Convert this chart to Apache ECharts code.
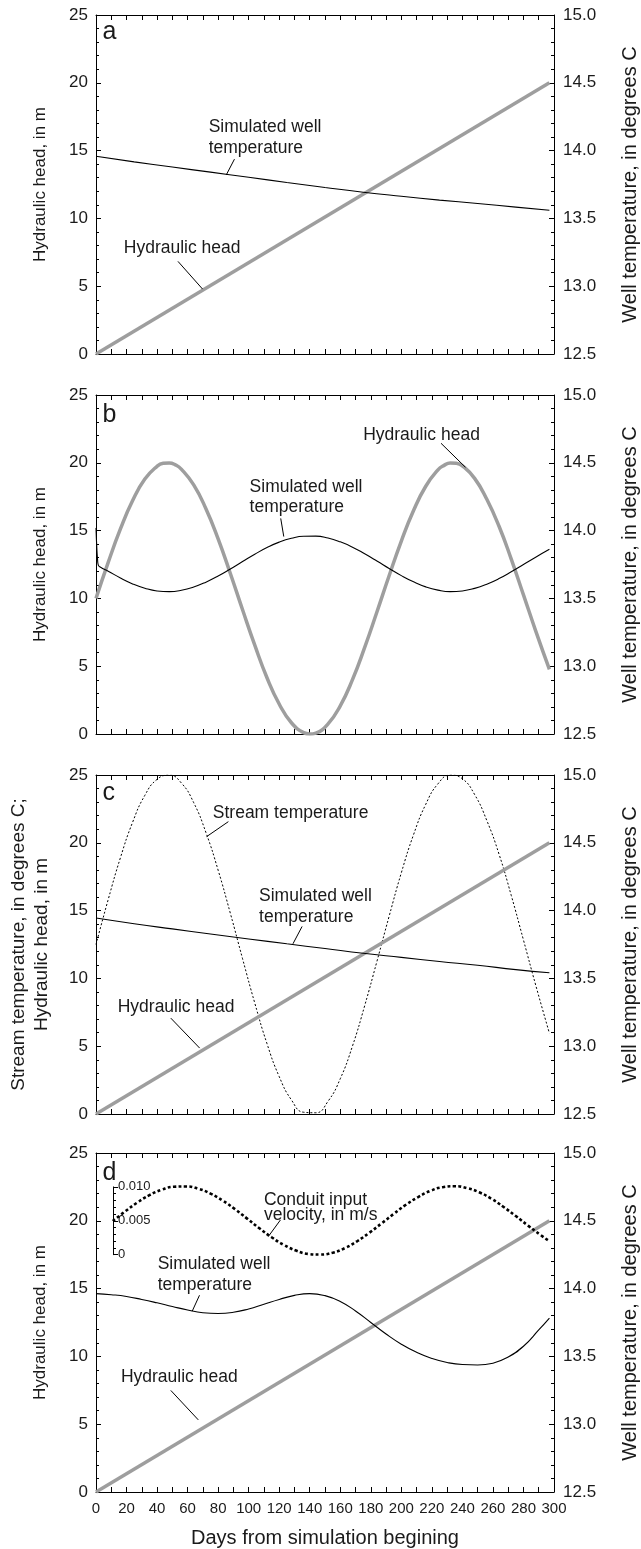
<!DOCTYPE html>
<html><head><meta charset="utf-8">
<script src="https://cdn.jsdelivr.net/npm/echarts@6/dist/echarts.min.js"></script>
<style>html,body{margin:0;padding:0;background:#fff}#c{width:641px;height:1549px}</style>
</head><body><div id="c"></div>
<script>
// ---------------- DATA ----------------
const panelLetters = ['a', 'b', 'c', 'd'];
const xTickLabels = [0,20,40,60,80,100,120,140,160,180,200,220,240,260,280,300];

// linear hydraulic head (panels a, c, d), metres
const headLinDays = [0, 297];
const headLin = [0, 20];

// panel a: simulated well temperature, deg C
const tempADays = [0,25,50,75,100,125,150,175,200,225,250,275,297];
const tempA = [13.958,13.917,13.879,13.841,13.803,13.765,13.728,13.693,13.663,13.635,13.61,13.583,13.56];

// panel b: sinusoidal hydraulic head, metres
const headBDays = [0,8,16,24,32,40,44,48,52,56,64,72,80,88,96,104,112,120,128,136,140,144,152,160,168,176,184,192,200,208,216,224,228,232,236,240,248,256,264,272,280,288,297];
const headB = [10.0,12.66,15.12,17.22,18.80,19.74,19.96,19.99,19.85,19.52,18.37,16.61,14.39,11.84,9.16,6.55,4.15,2.21,0.83,0.10,0.00,0.07,0.75,2.08,4.01,6.39,9.00,11.67,14.23,16.48,18.27,19.48,19.81,19.99,19.97,19.78,18.85,17.31,15.32,12.90,10.26,7.61,4.76];

// panel b: simulated well temperature, deg C
const tempBDays = [0,0.5,1,1.5,3,8,16,24,32,40,48,56,64,72,80,88,96,104,112,120,128,136,144,152,160,168,176,184,192,200,208,216,224,232,240,248,256,264,272,280,288,297];
const tempB = [14.02,13.88,13.79,13.745,13.73,13.701,13.650,13.607,13.575,13.555,13.550,13.560,13.584,13.620,13.665,13.717,13.772,13.826,13.875,13.915,13.943,13.958,13.959,13.945,13.917,13.878,13.829,13.776,13.721,13.668,13.622,13.585,13.561,13.550,13.555,13.574,13.605,13.646,13.696,13.750,13.804,13.862];

// panel c: stream temperature (deg C, left axis) and well temperature (deg C, right axis)
const streamDays = [0,8,16,24,32,40,48,56,64,72,80,88,96,104,112,120,128,136,144,152,160,168,176,184,192,200,208,216,224,232,240,248,256,264,272,280,288,297];
const streamC = [12.50,15.82,18.90,21.52,23.50,24.68,24.99,24.40,22.96,20.76,17.98,14.80,11.45,8.18,5.19,2.76,1.04,0.13,0.09,0.94,2.60,5.01,7.99,11.25,14.58,17.79,20.60,22.84,24.35,24.99,24.72,23.56,21.64,19.16,16.12,12.83,9.51,5.95];
const tempCDays = [0,25,50,75,100,125,150,175,200,225,250,275,297];
const tempC = [13.945,13.903,13.865,13.828,13.791,13.755,13.72,13.685,13.655,13.625,13.597,13.565,13.542];

// panel d: well temperature, deg C
const tempDDays = [0,10,20,30,40,50,60,70,80,90,100,110,120,130,140,150,160,170,180,190,200,210,220,230,240,250,260,270,280,290,297];
const tempD = [13.963,13.955,13.942,13.92,13.895,13.868,13.842,13.822,13.816,13.825,13.85,13.885,13.92,13.95,13.963,13.948,13.905,13.835,13.75,13.665,13.59,13.53,13.485,13.455,13.44,13.437,13.45,13.495,13.575,13.695,13.783];

// panel d: conduit input velocity, m/s
const velDays = [11,19,27,35,43,51,59,67,75,83,91,99,107,115,123,131,139,147,155,163,171,179,187,195,203,211,219,227,235,243,251,259,267,275,283,291,297];
const velD = [0.00496,0.00637,0.00768,0.00878,0.00957,0.01002,0.01007,0.00973,0.00901,0.00798,0.00672,0.00532,0.00390,0.00258,0.00145,0.00061,0.00011,0.00002,0.00029,0.00097,0.00198,0.00323,0.00461,0.00602,0.00737,0.00850,0.00941,0.00996,0.01010,0.00983,0.00921,0.00825,0.00704,0.00570,0.00429,0.00294,0.00198];

// ---------------- LAYOUT / STYLE ----------------
const FONT = '"Liberation Sans", Arial, Helvetica, sans-serif';
const TXT = '#1a1a1a';
const L = 96, R = 87, H = 339;
const TOPS = [15, 395, 775, 1153];

const chart = echarts.init(document.getElementById('c'), null, {renderer: 'canvas', width: 641, height: 1549});

const grids = TOPS.map(t => ({left: L, right: R, top: t, height: H, containLabel: false, outerBoundsMode: 'none'}));
const vTop = TOPS[3] + H * (25 - 22.5) / 25;
const vBot = TOPS[3] + H * (25 - 17.5) / 25;
grids.push({left: L, right: R, top: vTop, height: vBot - vTop, containLabel: false, outerBoundsMode: 'none'});

const blk = {color: '#000', width: 1};
function xAx(i, pos) {
  const showLab = (pos === 'bottom' && i === 3);
  return {
    gridIndex: i, type: 'value', position: pos, min: 0, max: 300, interval: 20,
    axisLine: {show: true, onZero: false, lineStyle: blk},
    axisTick: {show: true, inside: true, length: 5, lineStyle: blk},
    minorTick: {show: true, splitNumber: 2, length: 5, lineStyle: blk},
    splitLine: {show: false}, minorSplitLine: {show: false},
    axisLabel: {show: showLab, fontFamily: FONT, fontSize: 15, color: TXT, margin: 9, showMinLabel: true, showMaxLabel: true,
      formatter: v => xTickLabels.indexOf(v) >= 0 ? String(v) : ''},
    name: showLab ? 'Days from simulation begining' : '',
    nameLocation: 'middle', nameGap: 36,
    nameTextStyle: {fontFamily: FONT, fontSize: 20, color: TXT}
  };
}
const leftNames = ['Hydraulic head, in m', 'Hydraulic head, in m',
  'Stream temperature, in degrees C;\nHydraulic head, in m', 'Hydraulic head, in m'];
function yLeft(i) {
  return {
    gridIndex: i, type: 'value', position: 'left', min: 0, max: 25, interval: 5,
    axisLine: {show: true, onZero: false, lineStyle: blk},
    axisTick: {show: true, inside: true, length: 5, lineStyle: blk},
    minorTick: {show: true, splitNumber: 5, length: 3, lineStyle: blk},
    splitLine: {show: false}, minorSplitLine: {show: false},
    axisLabel: {fontFamily: FONT, fontSize: 17, color: TXT, margin: 8, showMinLabel: true, showMaxLabel: true},
    name: leftNames[i], nameLocation: 'middle', nameRotate: 90,
    nameGap: i === 2 ? 43 : 44,
    nameTextStyle: {fontFamily: FONT, fontSize: i === 2 ? 19 : 17, color: TXT, lineHeight: 22.5}
  };
}
function yRight(i) {
  return {
    gridIndex: i, type: 'value', position: 'right', min: 12.5, max: 15, interval: 0.5,
    axisLine: {show: true, onZero: false, lineStyle: blk},
    axisTick: {show: true, inside: true, length: 5, lineStyle: blk},
    minorTick: {show: true, splitNumber: 5, length: 3, lineStyle: blk},
    splitLine: {show: false}, minorSplitLine: {show: false},
    axisLabel: {fontFamily: FONT, fontSize: 17, color: TXT, margin: 9, showMinLabel: true, showMaxLabel: true,
      formatter: v => v.toFixed(1)},
    name: 'Well temperature, in degrees C', nameLocation: 'middle', nameRotate: 90, nameGap: 66,
    nameTextStyle: {fontFamily: FONT, fontSize: 20, color: TXT}
  };
}

const xAxes = [], yAxes = [];
for (let i = 0; i < 4; i++) {
  xAxes.push(xAx(i, 'bottom'), xAx(i, 'top'));
  yAxes.push(yLeft(i), yRight(i));
}
// inset velocity axis (panel d)
xAxes.push({gridIndex: 4, type: 'value', min: 0, max: 300, show: false});
yAxes.push({
  gridIndex: 4, type: 'value', position: 'left', min: 0, max: 0.01, interval: 0.005, offset: -17,
  axisLine: {show: true, onZero: false, lineStyle: blk},
  axisTick: {show: true, inside: true, length: 5, lineStyle: blk},
  minorTick: {show: true, splitNumber: 5, length: 3, lineStyle: blk},
  splitLine: {show: false}, minorSplitLine: {show: false},
  axisLabel: {inside: true, fontFamily: FONT, fontSize: 13, color: TXT, margin: 5, showMinLabel: true, showMaxLabel: true,
    formatter: v => v === 0 ? '0' : v.toFixed(3)}
});

const pairs = (xs, ys) => xs.map((x, k) => [x, ys[k]]);
const HEAD = {color: '#9e9e9e', width: 3.5};
const TEMP = {color: '#000', width: 1.1};
function line(xi, yi, data, lineStyle, extra) {
  return Object.assign({type: 'line', xAxisIndex: xi, yAxisIndex: yi, data, symbol: 'none', silent: true,
    animation: false, lineStyle, emphasis: {disabled: true}}, extra || {});
}
const SM = {smooth: 0.5};
const series = [
  line(0, 0, pairs(headLinDays, headLin), HEAD),
  line(0, 1, pairs(tempADays, tempA), TEMP, SM),
  line(2, 2, pairs(headBDays, headB), HEAD, SM),
  line(2, 3, pairs(tempBDays, tempB), TEMP, SM),
  line(4, 4, pairs(streamDays, streamC), {color: '#000', width: 1, type: [2, 2]}, SM),
  line(4, 4, pairs(headLinDays, headLin), HEAD),
  line(4, 5, pairs(tempCDays, tempC), TEMP, SM),
  line(6, 6, pairs(headLinDays, headLin), HEAD),
  line(6, 7, pairs(tempDDays, tempD), TEMP, SM),
  line(8, 8, pairs(velDays, velD), {color: '#000', width: 2.6, type: [3, 2.4]}, Object.assign({clip: false}, SM))
];

chart.setOption({
  animation: false,
  backgroundColor: '#fff',
  grid: grids, xAxis: xAxes, yAxis: yAxes, series
});

// ---------------- ANNOTATIONS (anchored in data units of left axis) ----------------
const notes = [
  {p: 0, text: 'Simulated well\ntemperature', at: [73.8, 15.95], lh: 20.5, lead: [[90.7, 14.37], [85.3, 13.2]]},
  {p: 0, text: 'Hydraulic head', at: [18.2, 7.8], lh: 20, lead: [[53.7, 6.83], [69.8, 4.79]]},
  {p: 1, text: 'Hydraulic head', at: [175, 22.05], lh: 20, lead: [[226, 21.44], [242, 19.67]]},
  {p: 1, text: 'Simulated well\ntemperature', at: [100.6, 17.45], lh: 20.5, lead: [[121, 15.9], [123, 14.56]]},
  {p: 2, text: 'Stream temperature', at: [76.5, 22.2], lh: 20, lead: [[86.7, 21.56], [72.4, 20.45]]},
  {p: 2, text: 'Simulated well\ntemperature', at: [106.8, 15.3], lh: 20.5, lead: [[135, 13.83], [129, 12.55]]},
  {p: 2, text: 'Hydraulic head', at: [14.2, 7.88], lh: 20, lead: [[49, 7.07], [67.9, 4.86]]},
  {p: 3, text: 'Conduit input\nvelocity, in m/s', at: [110, 20.98], lh: 15, lead: [[120.8, 20.06], [112.8, 18.83]]},
  {p: 3, text: 'Simulated well\ntemperature', at: [40.4, 16.04], lh: 20.5, lead: [[67.8, 14.51], [63, 13.33]]},
  {p: 3, text: 'Hydraulic head', at: [16.3, 8.47], lh: 20, lead: [[49, 7.49], [67, 5.32]]}
];
const letterAt = [[4.2, 23.75], [4.2, 23.55], [4.2, 23.65], [4.2, 23.55]];

function toPx(p, pt) {
  return [chart.convertToPixel({xAxisIndex: 2 * p}, pt[0]), chart.convertToPixel({yAxisIndex: 2 * p}, pt[1])];
}
const g = [];
notes.forEach(n => {
  const a = toPx(n.p, n.at);
  g.push({type: 'text', x: a[0], y: a[1], silent: true, z: 100,
    style: {text: n.text, fill: TXT, font: '17.5px ' + FONT, align: 'left', verticalAlign: 'middle', lineHeight: n.lh}});
  const s = toPx(n.p, n.lead[0]), e = toPx(n.p, n.lead[1]);
  g.push({type: 'line', silent: true, z: 100, shape: {x1: s[0], y1: s[1], x2: e[0], y2: e[1]}, style: {stroke: '#000', lineWidth: 1}});
});
panelLetters.forEach((t, p) => {
  const a = toPx(p, letterAt[p]);
  g.push({type: 'text', x: a[0], y: a[1], silent: true, z: 100,
    style: {text: t, fill: TXT, font: '25px ' + FONT, align: 'left', verticalAlign: 'middle'}});
});
chart.setOption({graphic: g});
</script>
</body></html>
